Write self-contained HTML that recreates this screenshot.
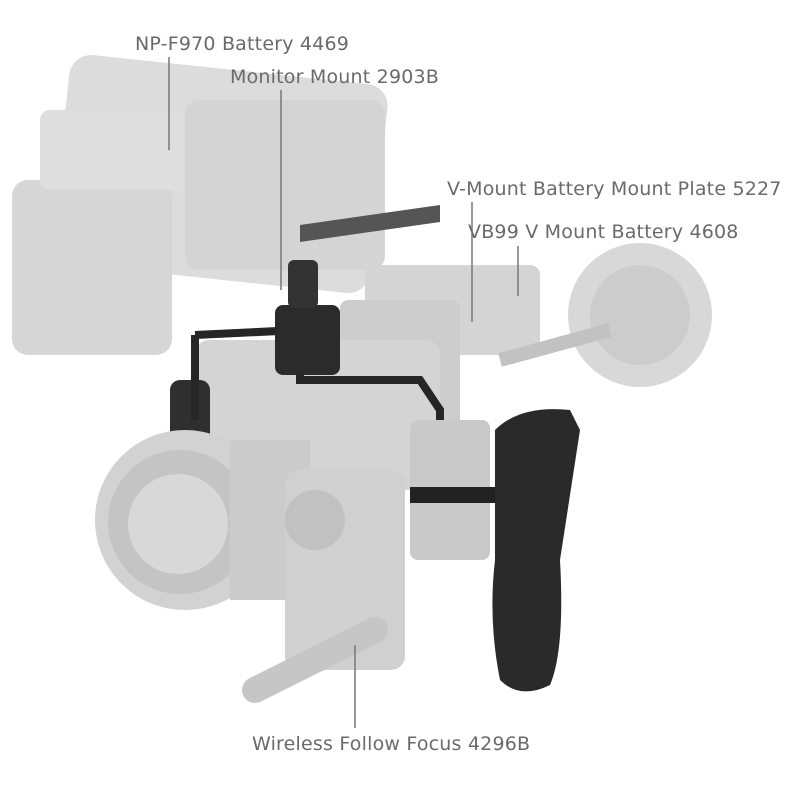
<!DOCTYPE html>
<html><head><meta charset="utf-8"><style>
html,body{margin:0;padding:0;background:#fff;}
.wrap{position:relative;width:800px;height:800px;overflow:hidden;font-family:"DejaVu Sans","Liberation Sans",sans-serif;}
.t{position:absolute;font-size:19px;color:#6a6a6a;white-space:nowrap;letter-spacing:0.2px;}
</style></head><body><div class="wrap">
<svg width="800" height="800" style="position:absolute;left:0;top:0">
<rect x="60" y="68" width="320" height="210" rx="22" fill="#dcdcdc" transform="rotate(6 210 170)"/>
<rect x="185" y="100" width="200" height="170" rx="14" fill="#d4d4d4"/>
<rect x="12" y="180" width="160" height="175" rx="16" fill="#d6d6d6"/>
<rect x="40" y="110" width="145" height="80" rx="10" fill="#dedede"/>
<path d="M300 225 L440 205 L440 222 L300 242 Z" fill="#555"/>
<rect x="365" y="265" width="175" height="90" rx="10" fill="#d4d4d4"/>
<rect x="340" y="300" width="120" height="140" rx="8" fill="#cdcdcd"/>
<circle cx="640" cy="315" r="72" fill="#d8d8d8"/>
<circle cx="640" cy="315" r="50" fill="#cccccc"/>
<path d="M500 360 L610 330" stroke="#c2c2c2" stroke-width="14"/>
<rect x="195" y="340" width="245" height="150" rx="14" fill="#d4d4d4"/>
<rect x="170" y="380" width="40" height="80" rx="10" fill="#2f2f2f"/>
<path d="M195 335 L300 330 L300 380 L420 380 L440 410 L440 560" fill="none" stroke="#262626" stroke-width="8"/>
<path d="M195 335 L195 420" stroke="#262626" stroke-width="8"/>
<rect x="275" y="305" width="65" height="70" rx="8" fill="#2b2b2b"/>
<rect x="288" y="260" width="30" height="48" rx="6" fill="#333"/>
<circle cx="185" cy="520" r="90" fill="#d2d2d2"/>
<circle cx="180" cy="522" r="72" fill="#c4c4c4"/>
<circle cx="178" cy="524" r="50" fill="#d8d8d8"/>
<rect x="230" y="440" width="80" height="160" fill="#cbcbcb"/>
<rect x="285" y="470" width="120" height="200" rx="14" fill="#d0d0d0"/>
<circle cx="315" cy="520" r="30" fill="#c1c1c1"/>
<rect x="410" y="420" width="80" height="140" rx="8" fill="#c9c9c9"/>
<path d="M410 495 L500 495" stroke="#222" stroke-width="16"/>
<path d="M255 690 L375 630" stroke="#c6c6c6" stroke-width="26" stroke-linecap="round"/>
<path d="M495 430 Q520 405 570 410 L580 430 L560 560 Q565 650 550 685 Q520 700 500 680 Q488 620 495 560 Z" fill="#2a2a2a"/>
<g stroke="#777" stroke-width="1.5">
<line x1="169" y1="57" x2="169" y2="150"/>
<line x1="281" y1="90" x2="281" y2="290"/>
<line x1="472" y1="202" x2="472" y2="322"/>
<line x1="518" y1="246" x2="518" y2="296"/>
<line x1="355" y1="645" x2="355" y2="728"/>
</g>
</svg>
<div class="t" style="left:135px;top:33px">NP-F970 Battery 4469</div>
<div class="t" style="left:230px;top:66px">Monitor Mount 2903B</div>
<div class="t" style="left:447px;top:178px">V-Mount Battery Mount Plate 5227</div>
<div class="t" style="left:468px;top:221px">VB99 V Mount Battery 4608</div>
<div class="t" style="left:252px;top:733px">Wireless Follow Focus 4296B</div>
</div></body></html>
